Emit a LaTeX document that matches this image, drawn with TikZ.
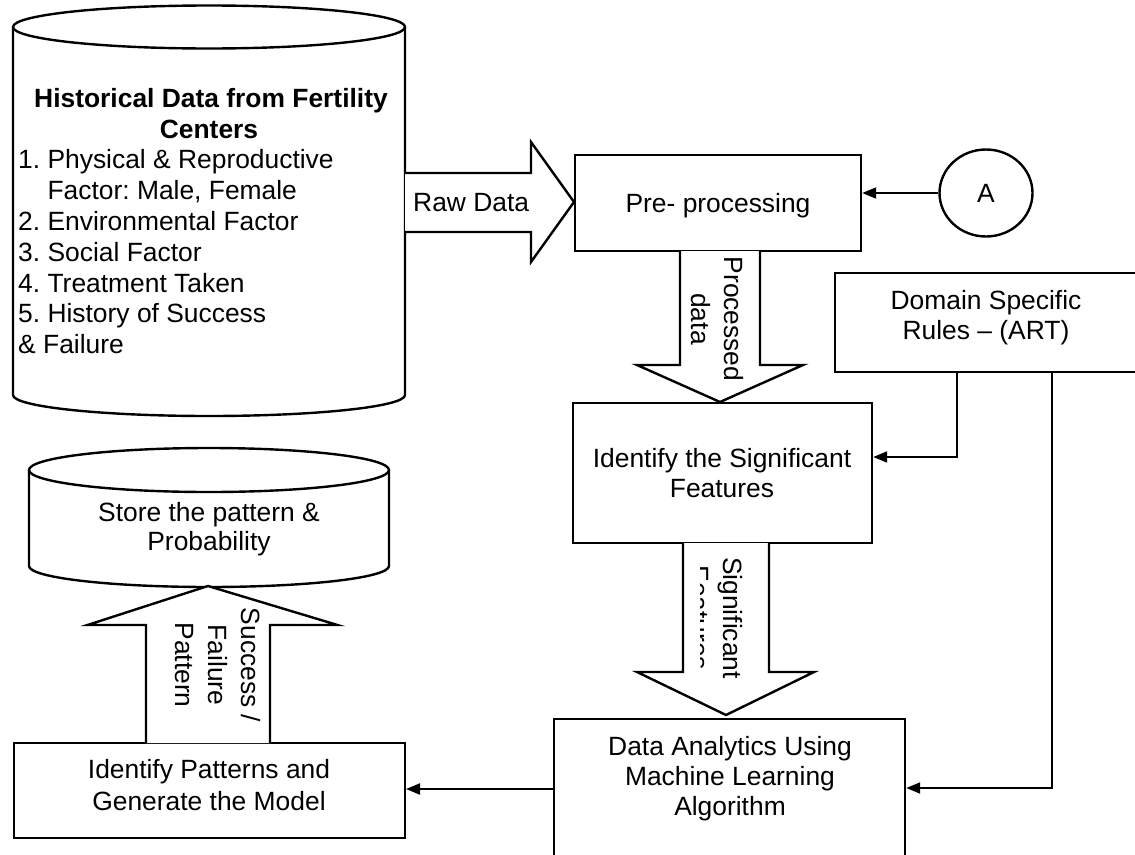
\documentclass[tikz,border=0pt]{standalone}
\usepackage{fontspec}
\setmainfont{Liberation Sans}
\usetikzlibrary{arrows.meta,calc,shapes.geometric}
\frenchspacing
\begin{document}
\begin{tikzpicture}[x=1pt,y=-1pt,
  outline/.style={draw=black, line width=2.4pt, fill=white},
  box/.style={outline, rectangle, inner sep=0pt},
  txt/.style={font=\fontsize{26.4}{30.5}\selectfont, inner sep=0pt, align=center},
  rottxt/.style={font=\fontsize{26.4}{33}\selectfont, inner sep=0pt, align=center, rotate=-90},
  conn/.style={draw=black, line width=2pt, -{Triangle[length=14pt,width=11pt]}},
  blockarrow/.style={outline, line join=miter}
]
\useasboundingbox (0,0) rectangle (1135,854);
\clip (0,0) rectangle (1135,854);
\fill[white] (0,0) rectangle (1135,854);

% ---- data store: historical records ----
\draw[outline] (13,27) -- (13,395)
  arc[start angle=180, end angle=360, x radius=196pt, y radius=21pt] -- (405,27);
\draw[outline] (209,27) ellipse[x radius=196pt, y radius=21.5pt];
\node[txt, font=\fontsize{26.4}{30.5}\selectfont\bfseries, anchor=base] (histA) at (211,107) {Historical Data from Fertility};
\node[txt, font=\fontsize{26.4}{30.5}\selectfont\bfseries, anchor=base] (histB) at (209,138) {Centers};
\node[txt, anchor=base west] (hist1) at (18,168) {1. Physical \& Reproductive};
\node[txt, anchor=base west] (hist1b) at (18,199) {\phantom{1. }Factor: Male, Female};
\node[txt, anchor=base west] (hist2) at (18,230) {2. Environmental Factor};
\node[txt, anchor=base west] (hist3) at (18,261) {3. Social Factor};
\node[txt, anchor=base west] (hist4) at (18,292) {4. Treatment Taken};
\node[txt, anchor=base west] (hist5) at (18,322.5) {5. History of Success};
\node[txt, anchor=base west] (hist5b) at (18,353) {\& Failure};

% ---- data store: learned patterns ----
\draw[outline] (29,470) -- (29,566)
  arc[start angle=180, end angle=360, x radius=180pt, y radius=21pt] -- (389,470);
\draw[outline] (209,470) ellipse[x radius=180pt, y radius=22pt];
\node[txt, anchor=base] (storeA) at (209,521) {Store the pattern \&};
\node[txt, anchor=base] (storeB) at (209,550) {Probability};

% ---- process boxes ----
\node[box, minimum width=286pt, minimum height=96pt] (pre) at (718,203) {};
\node[txt, anchor=base] (preT) at (718,212) {Pre- processing};

\node[outline, ellipse, inner sep=0pt, minimum width=93pt, minimum height=87pt] (A) at (986,193) {};
\node[txt, anchor=base] (AT) at (986,202.5) {A};

\node[box, minimum width=302pt, minimum height=99pt] (dom) at (986,322.5) {};
\node[txt, anchor=base] (domA) at (986,309) {Domain Specific};
\node[txt, anchor=base] (domB) at (986,339) {Rules -- (ART)};

\node[box, minimum width=299pt, minimum height=140pt] (sig) at (722.5,473) {};
\node[txt, anchor=base] (sigA) at (722,467) {Identify the Significant};
\node[txt, anchor=base] (sigB) at (722,497) {Features};

\node[box, minimum width=351pt, minimum height=200pt] (ml) at (729.5,819) {};
\node[txt, anchor=base] (mlA) at (730,755) {Data Analytics Using};
\node[txt, anchor=base] (mlB) at (730,785) {Machine Learning};
\node[txt, anchor=base] (mlC) at (730,815) {Algorithm};

\node[box, minimum width=391pt, minimum height=95pt] (pat) at (209.3,790.5) {};
\node[txt, anchor=base] (patA) at (209,778) {Identify Patterns and};
\node[txt, anchor=base] (patB) at (209,810) {Generate the Model};

% ---- block arrows ----
\draw[blockarrow] (405,173) -- (531,173) -- (531,142) -- (574,202) -- (531,262) -- (531,232) -- (405,232);
\node[txt, anchor=base west] (rawT) at (413,211) {Raw Data};

\draw[blockarrow] (680,251) -- (680,365) -- (637,365) -- (720,402) -- (803,365) -- (760,365) -- (760,251);
\node[rottxt] (procT) at (717,319) {Processed\\data};

\draw[blockarrow] (683,543) -- (683,672) -- (637,672) -- (726,715) -- (814,672) -- (769,672) -- (769,543);
\begin{scope}
  \clip (700,545) rectangle (770,700);
  \node[rottxt] (featT) at (716,618) {Significant\\Features};
\end{scope}

\draw[blockarrow] (146,743) -- (146,625) -- (87.5,625) -- (208,586) -- (337.5,625) -- (270,625) -- (270,743);
\node[rottxt] (succT) at (218,665) {Success /\\Failure\\Pattern};

% ---- connectors ----
\draw[conn] (A.west) -- (pre.east |- A.west);
\draw[conn] (dom.south -| 957,0) |- (sig.east |- 0,457);
\draw[conn] (dom.south -| 1052,0) |- (ml.east |- 0,788);
\draw[conn] (ml.west |- 0,789) -- (pat.east |- 0,789);
\end{tikzpicture}
\end{document}
